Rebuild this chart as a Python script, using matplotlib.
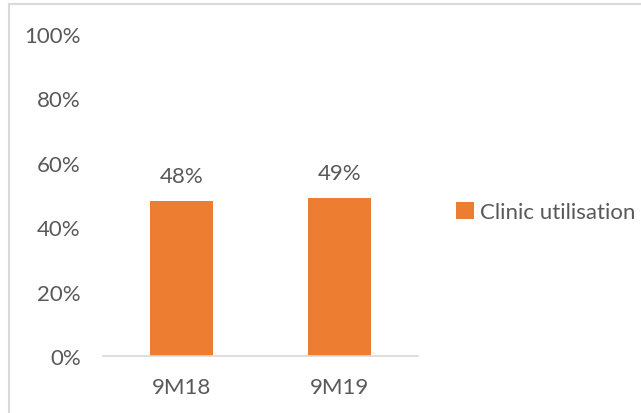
import matplotlib
matplotlib.use("Agg")
import matplotlib.pyplot as plt
from matplotlib.lines import Line2D
from matplotlib.ticker import FuncFormatter

categories = ["9M18", "9M19"]
values = [48, 49]
series_name = "Clinic utilisation"
yticks = [0, 20, 40, 60, 80, 100]

W, H = 641, 414
fig = plt.figure(figsize=(W / 100, H / 100), dpi=100)
plt.rcParams['font.family'] = ['Lato', 'DejaVu Sans']
gray = "#595959"
orange = "#ED7D31"
FS = 16

# axes: x 103..418, y 35..357 (pixels from top)
ax = fig.add_axes([103 / W, 1 - 357 / H, (418 - 103) / W, (357 - 35) / H])
x = range(len(categories))
bars = ax.bar(x, values, width=0.4, color=orange, label=series_name)
ax.set_xlim(-0.5, len(categories) - 0.5)
ax.set_ylim(0, 100)
ax.set_yticks(yticks)
ax.yaxis.set_major_formatter(FuncFormatter(lambda v, p: f"{int(v)}%"))
ax.set_xticks(list(x))
ax.set_xticklabels(categories)
for s in ["top", "right", "left"]:
    ax.spines[s].set_visible(False)
ax.spines["bottom"].set_color("#D9D9D9")
ax.spines["bottom"].set_linewidth(1.2)
ax.tick_params(axis="both", length=0, colors=gray, labelsize=FS)
ax.tick_params(axis="y", pad=16)
ax.tick_params(axis="x", pad=15)
for b, v in zip(bars, values):
    ax.annotate(f"{v}%", (b.get_x() + b.get_width() / 2, v), xytext=(0, 18),
                textcoords="offset points", ha="center", va="center",
                color=gray, fontsize=FS)

leg = fig.legend(handles=[bars], labels=[series_name], loc="center left",
                 bbox_to_anchor=(436 / W, 1 - 213 / H), frameon=False,
                 fontsize=FS, handlelength=0.8, handleheight=0.8, handletextpad=0.3)
for t in leg.get_texts():
    t.set_color(gray)

# figure border (top and left visible)
fig.add_artist(Line2D([8.5 / W, 1], [1 - 5 / H, 1 - 5 / H], transform=fig.transFigure,
                      color="#D9D9D9", lw=1.5))
fig.add_artist(Line2D([8.5 / W, 8.5 / W], [0, 1 - 5 / H], transform=fig.transFigure,
                      color="#D9D9D9", lw=1.5))

fig.savefig("out.png", dpi=100)
